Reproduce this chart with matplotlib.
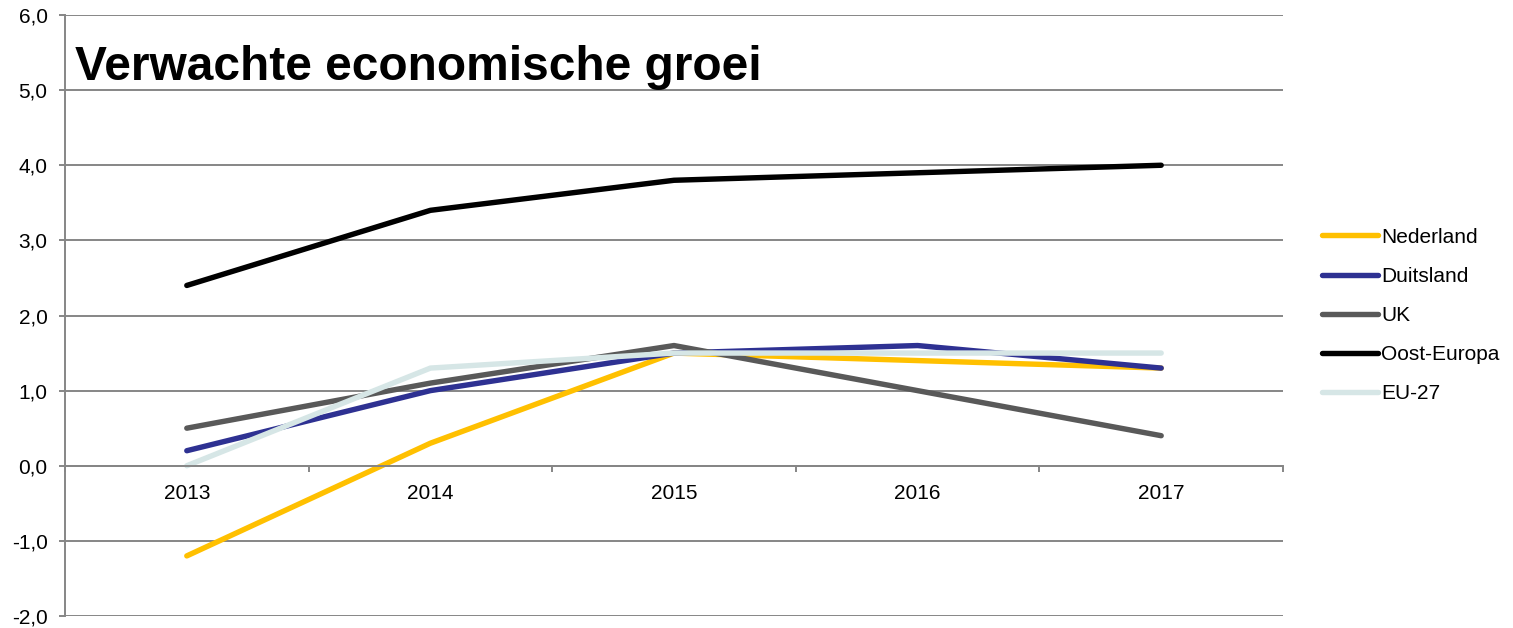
import matplotlib
matplotlib.use("Agg")
import matplotlib.pyplot as plt
import numpy as np

years = ["2013", "2014", "2015", "2016", "2017"]
nederland = [-1.2, 0.3, 1.5, 1.4, 1.3]
duitsland = [0.2, 1.0, 1.5, 1.6, 1.3]
uk = [0.5, 1.1, 1.6, 1.0, 0.4]
oost_europa = [2.4, 3.4, 3.8, 3.9, 4.0]
eu27 = [0.0, 1.3, 1.5, 1.5, 1.5]

series = [
    ("Nederland", nederland, "#FFC000"),
    ("Duitsland", duitsland, "#2E3192"),
    ("UK", uk, "#595959"),
    ("Oost-Europa", oost_europa, "#000000"),
    ("EU-27", eu27, "#D6E6E6"),
]

plt.rcParams["font.family"] = ["Liberation Sans", "DejaVu Sans"]

fig = plt.figure(figsize=(15.13, 6.28), dpi=100)
ax = fig.add_axes([65 / 1513, 1 - 616 / 628, (1283 - 65) / 1513, (616 - 15) / 628])

x = np.arange(len(years))
for name, vals, color in series:
    ax.plot(x, vals, color=color, lw=3.9, label=name, solid_capstyle="round",
            solid_joinstyle="round")

ax.set_xlim(-0.5, 4.5)
ax.set_ylim(-2, 6)
ax.set_yticks(np.arange(-2, 7, 1))
ax.set_yticklabels([f"{v:.1f}".replace(".", ",") for v in np.arange(-2, 7, 1)])
ax.yaxis.grid(True, color="#868686", lw=1.4)
ax.set_axisbelow(True)

ax.set_xticks(x)
ax.set_xticklabels(years)
ax.set_xticks(np.arange(-0.5, 5, 1), minor=True)
ax.tick_params(axis="x", which="major", length=0, pad=13, labelsize=15)
ax.tick_params(axis="x", which="minor", length=4.5, width=1.4, color="#868686",
               direction="out")
ax.tick_params(axis="y", length=4.5, width=1.4, color="#868686", pad=8,
               labelsize=15)

for side in ["top", "right"]:
    ax.spines[side].set_visible(False)
ax.spines["left"].set_color("#868686")
ax.spines["left"].set_linewidth(1.4)
ax.spines["bottom"].set_position(("data", 0))
ax.spines["bottom"].set_color("#868686")
ax.spines["bottom"].set_linewidth(1.4)

ax.text(75 / 1513, 1 - 68 / 628, "Verwachte economische groei", transform=fig.transFigure,
        fontsize=34.5, fontweight="bold", va="center", ha="left")

fig.legend(loc="center left", bbox_to_anchor=(1322 / 1513, 1 - 315.5 / 628),
           frameon=False, fontsize=15, handlelength=2.7, handletextpad=0.15,
           labelspacing=0.97, borderaxespad=0, borderpad=0)

fig.savefig("out.png", dpi=100)
